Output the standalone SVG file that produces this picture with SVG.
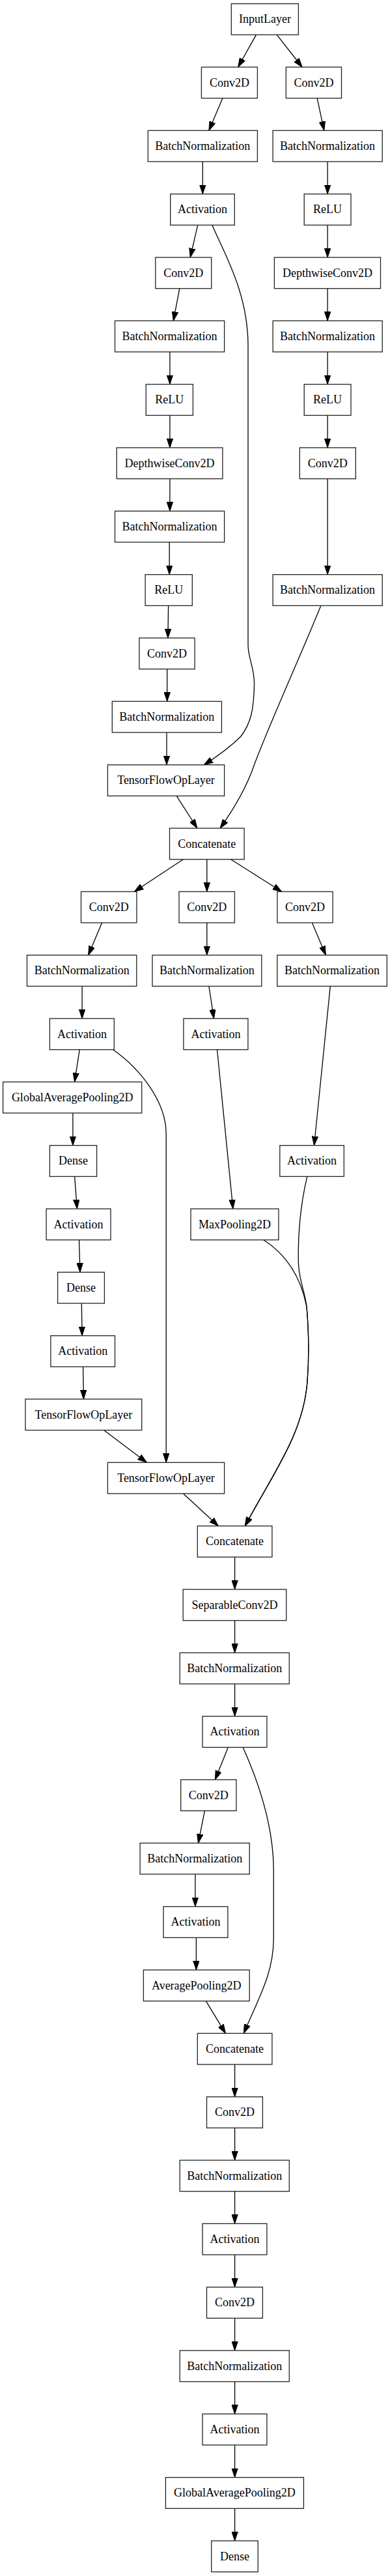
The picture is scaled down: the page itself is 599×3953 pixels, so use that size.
<svg xmlns="http://www.w3.org/2000/svg" width="599" height="3953" viewBox="0 0 599 3953">
<style>
.n rect{fill:#fff;stroke:#222;stroke-width:1.3}
.n text{font-family:"Liberation Serif","Times New Roman",serif;font-size:18px;text-anchor:middle;fill:#000}
.e path{fill:none;stroke:#000;stroke-width:1.3;marker-end:url(#ah)}
</style>
<defs>
<marker id="ah" markerWidth="14" markerHeight="10" refX="14" refY="5" orient="auto" markerUnits="userSpaceOnUse" viewBox="0 0 14 10"><path d="M0,0.3 L14,5 L0,9.7 z" fill="#000" stroke="#000" stroke-width="1"/></marker>
</defs>
<rect x="0" y="0" width="599" height="3953" fill="#fff"/>
<g id="edges" class="e">
<path d="M393.5,53.4 L365.6,103"/>
<path d="M425.2,53.4 L464.1,103"/>
<path d="M341.9,150.7 L320.9,200.3"/>
<path d="M487.1,150.7 L497.8,200.3"/>
<path d="M311.3,248 L311.3,297.7"/>
<path d="M503.1,248 L503.1,297.7"/>
<path d="M303.7,345.4 L292.2,395"/>
<path d="M503.1,345.4 L503.1,395"/>
<path d="M275.8,442.7 L266.3,492.3"/>
<path d="M503.1,442.7 L503.1,492.3"/>
<path d="M260.9,540 L260.9,589.7"/>
<path d="M503.1,540 L503.1,589.7"/>
<path d="M260.9,637.4 L260.9,687"/>
<path d="M503.1,637.4 L503.1,687"/>
<path d="M260.9,734.7 L260.9,784.3"/>
<path d="M503.1,734.7 L503.1,881.7"/>
<path d="M260.2,832 L260.2,881.7"/>
<path d="M258.6,929.4 L257.9,979"/>
<path d="M256.7,1026.7 L256.7,1076.3"/>
<path d="M256,1124 L256,1173.7"/>
<path d="M325.9,345.4 C345,390 381,450 381,530 L381,990 C381,1010 391,1025 390.5,1050 C390,1090 385,1110 370,1130 C355,1145 335,1160 313.2,1173.7"/>
<path d="M492.8,929.4 C460,1010 410,1120 390,1175 C378,1210 360,1240 338.1,1271"/>
<path d="M271.2,1221.4 L302.9,1271"/>
<path d="M281.5,1318.7 L206.3,1368.3"/>
<path d="M317.8,1318.7 L317.8,1368.3"/>
<path d="M354.5,1318.7 L432.8,1368.3"/>
<path d="M156.6,1416 L135.6,1465.7"/>
<path d="M317.8,1416 L317.8,1465.7"/>
<path d="M479.4,1416 L500.4,1465.7"/>
<path d="M126.1,1513.4 L126.1,1563"/>
<path d="M320.9,1513.4 L328.5,1563"/>
<path d="M507.3,1513.4 L482.5,1757.7"/>
<path d="M122.2,1610.7 L114.6,1660.3"/>
<path d="M173.8,1610.7 C215,1640 255.2,1690 255.2,1740 L255.2,2244.3"/>
<path d="M333.5,1610.7 L357.9,1855"/>
<path d="M111.9,1708 L111.9,1757.7"/>
<path d="M114.6,1805.4 L118.4,1855"/>
<path d="M121.5,1902.7 L123,1952.3"/>
<path d="M125.3,2000 L126.1,2049.7"/>
<path d="M127.6,2097.4 L128.4,2147"/>
<path d="M159.7,2194.7 L225.4,2244.3"/>
<path d="M281.5,2292 L335.4,2341.7"/>
<path d="M471.8,1805.4 C461,1850 457,1900 458.5,1940 C459.5,1965 469,1985 471,2005 C474,2040 475,2080 472,2120 C466,2200 420,2260 376.3,2341.7"/>
<path d="M404.9,1902.7 C440,1925 462,1960 471,2005 C474,2040 475,2080 472,2120 C466,2200 420,2260 376.3,2341.7"/>
<path d="M360.6,2389.4 L360.6,2439"/>
<path d="M360.6,2486.7 L360.6,2536.3"/>
<path d="M360.6,2584 L360.6,2633.7"/>
<path d="M350.3,2681.4 L330.4,2731"/>
<path d="M373.2,2681.4 C395,2730 420.2,2800 420.2,2870 L420.2,2975 C420.2,3030 395,3070 374.4,3120.3"/>
<path d="M314.4,2778.7 L304.5,2828.3"/>
<path d="M299.9,2876 L299.9,2925.7"/>
<path d="M301.4,2973.4 L301.4,3023"/>
<path d="M316.3,3070.7 L346.5,3120.3"/>
<path d="M360.6,3168 L360.6,3217.7"/>
<path d="M360.6,3265.4 L360.6,3315"/>
<path d="M360.6,3362.7 L360.6,3412.3"/>
<path d="M360.6,3460 L360.6,3509.7"/>
<path d="M360.6,3557.4 L360.6,3607"/>
<path d="M360.6,3654.7 L360.6,3704.3"/>
<path d="M360.6,3752 L360.6,3801.7"/>
<path d="M360.6,3849.4 L360.6,3899"/>
</g>
<g id="n0" class="n"><rect x="355.3" y="5.7" width="103.1" height="47.7"/><text x="406.9" y="35.2">InputLayer</text></g>
<g id="n1" class="n"><rect x="309.4" y="103" width="86" height="47.7"/><text x="352.4" y="132.5">Conv2D</text></g>
<g id="n2" class="n"><rect x="439.3" y="103" width="85.2" height="47.7"/><text x="481.9" y="132.5">Conv2D</text></g>
<g id="n3" class="n"><rect x="227.3" y="200.3" width="168.1" height="47.7"/><text x="311.3" y="229.8">BatchNormalization</text></g>
<g id="n4" class="n"><rect x="419.1" y="200.3" width="168.1" height="47.7"/><text x="503.1" y="229.8">BatchNormalization</text></g>
<g id="n5" class="n"><rect x="261.7" y="297.7" width="98.5" height="47.7"/><text x="311" y="327.2">Activation</text></g>
<g id="n6" class="n"><rect x="467.2" y="297.7" width="71.8" height="47.7"/><text x="503.1" y="327.2">ReLU</text></g>
<g id="n7" class="n"><rect x="238.8" y="395" width="85.9" height="47.7"/><text x="281.7" y="424.5">Conv2D</text></g>
<g id="n8" class="n"><rect x="421.4" y="395" width="163.1" height="47.7"/><text x="503" y="424.5">DepthwiseConv2D</text></g>
<g id="n9" class="n"><rect x="176.5" y="492.3" width="168.1" height="47.7"/><text x="260.5" y="521.8">BatchNormalization</text></g>
<g id="n10" class="n"><rect x="419.1" y="492.3" width="168.1" height="47.7"/><text x="503.1" y="521.8">BatchNormalization</text></g>
<g id="n11" class="n"><rect x="224.2" y="589.7" width="72.2" height="47.7"/><text x="260.3" y="619.2">ReLU</text></g>
<g id="n12" class="n"><rect x="467.2" y="589.7" width="71.8" height="47.7"/><text x="503.1" y="619.2">ReLU</text></g>
<g id="n13" class="n"><rect x="179.2" y="687" width="162.7" height="47.7"/><text x="260.5" y="716.5">DepthwiseConv2D</text></g>
<g id="n14" class="n"><rect x="460.3" y="687" width="86" height="47.7"/><text x="503.3" y="716.5">Conv2D</text></g>
<g id="n15" class="n"><rect x="176.5" y="784.3" width="168.1" height="47.7"/><text x="260.5" y="813.8">BatchNormalization</text></g>
<g id="n16" class="n"><rect x="223.1" y="881.7" width="72.2" height="47.7"/><text x="259.2" y="911.2">ReLU</text></g>
<g id="n17" class="n"><rect x="419.1" y="881.7" width="168.1" height="47.7"/><text x="503.1" y="911.2">BatchNormalization</text></g>
<g id="n18" class="n"><rect x="213.9" y="979" width="85.2" height="47.7"/><text x="256.5" y="1008.5">Conv2D</text></g>
<g id="n19" class="n"><rect x="172.3" y="1076.3" width="168.1" height="47.7"/><text x="256.3" y="1105.8">BatchNormalization</text></g>
<g id="n20" class="n"><rect x="165.4" y="1173.7" width="179.2" height="47.7"/><text x="255" y="1203.2">TensorFlowOpLayer</text></g>
<g id="n21" class="n"><rect x="260.5" y="1271" width="114.6" height="47.7"/><text x="317.8" y="1300.5">Concatenate</text></g>
<g id="n22" class="n"><rect x="124.5" y="1368.3" width="85.4" height="47.7"/><text x="167.2" y="1397.8">Conv2D</text></g>
<g id="n23" class="n"><rect x="275" y="1368.3" width="85.4" height="47.7"/><text x="317.7" y="1397.8">Conv2D</text></g>
<g id="n24" class="n"><rect x="425.9" y="1368.3" width="85.2" height="47.7"/><text x="468.5" y="1397.8">Conv2D</text></g>
<g id="n25" class="n"><rect x="41.5" y="1465.7" width="168.3" height="47.7"/><text x="125.7" y="1495.2">BatchNormalization</text></g>
<g id="n26" class="n"><rect x="234" y="1465.7" width="167.8" height="47.7"/><text x="317.9" y="1495.2">BatchNormalization</text></g>
<g id="n27" class="n"><rect x="425.8" y="1465.7" width="168.5" height="47.7"/><text x="510" y="1495.2">BatchNormalization</text></g>
<g id="n28" class="n"><rect x="76.4" y="1563" width="98.9" height="47.7"/><text x="125.9" y="1592.5">Activation</text></g>
<g id="n29" class="n"><rect x="281.9" y="1563" width="99" height="47.7"/><text x="331.4" y="1592.5">Activation</text></g>
<g id="n30" class="n"><rect x="4.6" y="1660.3" width="213.1" height="47.7"/><text x="111.2" y="1689.8">GlobalAveragePooling2D</text></g>
<g id="n31" class="n"><rect x="76.4" y="1757.7" width="72.2" height="47.7"/><text x="112.5" y="1787.2">Dense</text></g>
<g id="n32" class="n"><rect x="429.8" y="1757.7" width="98.5" height="47.7"/><text x="479" y="1787.2">Activation</text></g>
<g id="n33" class="n"><rect x="71.1" y="1855" width="98.9" height="47.7"/><text x="120.5" y="1884.5">Activation</text></g>
<g id="n34" class="n"><rect x="293" y="1855" width="134.9" height="47.7"/><text x="360.5" y="1884.5">MaxPooling2D</text></g>
<g id="n35" class="n"><rect x="88.6" y="1952.3" width="71.8" height="47.7"/><text x="124.5" y="1981.8">Dense</text></g>
<g id="n36" class="n"><rect x="77.9" y="2049.7" width="98.6" height="47.7"/><text x="127.2" y="2079.2">Activation</text></g>
<g id="n37" class="n"><rect x="39" y="2147" width="178.7" height="47.7"/><text x="128.4" y="2176.5">TensorFlowOpLayer</text></g>
<g id="n38" class="n"><rect x="165.4" y="2244.3" width="179.2" height="47.7"/><text x="255" y="2273.8">TensorFlowOpLayer</text></g>
<g id="n39" class="n"><rect x="303.3" y="2341.7" width="114.6" height="47.7"/><text x="360.6" y="2371.2">Concatenate</text></g>
<g id="n40" class="n"><rect x="281.2" y="2439" width="158.5" height="47.7"/><text x="360.5" y="2468.5">SeparableConv2D</text></g>
<g id="n41" class="n"><rect x="276.2" y="2536.3" width="168.1" height="47.7"/><text x="360.3" y="2565.8">BatchNormalization</text></g>
<g id="n42" class="n"><rect x="311" y="2633.7" width="98.9" height="47.7"/><text x="360.5" y="2663.2">Activation</text></g>
<g id="n43" class="n"><rect x="277.7" y="2731" width="85.2" height="47.7"/><text x="320.3" y="2760.5">Conv2D</text></g>
<g id="n44" class="n"><rect x="215.1" y="2828.3" width="168.1" height="47.7"/><text x="299.2" y="2857.8">BatchNormalization</text></g>
<g id="n45" class="n"><rect x="251" y="2925.7" width="98.9" height="47.7"/><text x="300.5" y="2955.2">Activation</text></g>
<g id="n46" class="n"><rect x="220.4" y="3023" width="162.8" height="47.7"/><text x="301.8" y="3052.5">AveragePooling2D</text></g>
<g id="n47" class="n"><rect x="303.3" y="3120.3" width="114.6" height="47.7"/><text x="360.6" y="3149.8">Concatenate</text></g>
<g id="n48" class="n"><rect x="317.5" y="3217.7" width="85.9" height="47.7"/><text x="360.5" y="3247.2">Conv2D</text></g>
<g id="n49" class="n"><rect x="276.2" y="3315" width="168.1" height="47.7"/><text x="360.3" y="3344.5">BatchNormalization</text></g>
<g id="n50" class="n"><rect x="311" y="3412.3" width="98.9" height="47.7"/><text x="360.5" y="3441.8">Activation</text></g>
<g id="n51" class="n"><rect x="317.5" y="3509.7" width="85.9" height="47.7"/><text x="360.5" y="3539.2">Conv2D</text></g>
<g id="n52" class="n"><rect x="276.2" y="3607" width="168.1" height="47.7"/><text x="360.3" y="3636.5">BatchNormalization</text></g>
<g id="n53" class="n"><rect x="311" y="3704.3" width="98.9" height="47.7"/><text x="360.5" y="3733.8">Activation</text></g>
<g id="n54" class="n"><rect x="254.4" y="3801.7" width="212" height="47.7"/><text x="360.4" y="3831.2">GlobalAveragePooling2D</text></g>
<g id="n55" class="n"><rect x="324.7" y="3899" width="71.5" height="47.7"/><text x="360.5" y="3928.5">Dense</text></g>
</svg>
